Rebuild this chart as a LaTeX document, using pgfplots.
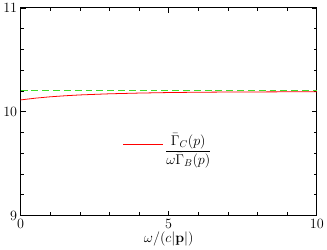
\documentclass[border=0pt]{standalone}
\usepackage{pgfplots}
\pgfplotsset{compat=1.18}
\begin{document}
\begin{tikzpicture}[x=1pt,y=1pt]
\begin{axis}[
  scale only axis,
  width=301pt, height=211pt,
  xmin=0, xmax=10, ymin=9, ymax=11,
  xtick={0,5,10}, ytick={9,10,11},
  minor x tick num=4, minor y tick num=4,
  tick align=inside,
  major tick length=5pt, minor tick length=3pt,
  axis line style={line width=0.8pt},
  tick style={black, line width=0.6pt},
  every tick label/.append style={font=\Large},
  xlabel={$\omega/(c|\mathbf{p}|)$},
  label style={font=\Large},
  xlabel style={yshift=3pt},
  legend style={at={(axis cs:3.45,9.68)}, anchor=west, draw=none, fill=none, font=\Large, inner sep=0pt},
  legend cell align=left,
  legend image code/.code={\draw[mark repeat=2,mark phase=2,#1] plot coordinates {(0pt,0pt) (20pt,0pt) (40pt,0pt)};},
]
\addplot[red, line width=0.8pt] coordinates {
(0,10.113) (0.5,10.130) (1,10.143) (1.5,10.153) (2,10.161) (3,10.172) (4,10.179) (5,10.184) (6,10.187) (7,10.189) (8,10.190) (9,10.191) (10,10.192)};
\addlegendentry{$\displaystyle\frac{\bar\Gamma_C(p)}{\omega\bar\Gamma_B(p)}$}
\addplot[color={rgb,255:red,60;green,220;blue,40}, dashed, dash pattern=on 7pt off 4pt, line width=1.2pt, forget plot] coordinates {(0,10.203) (10,10.203)};
\end{axis}
\end{tikzpicture}
\end{document}
